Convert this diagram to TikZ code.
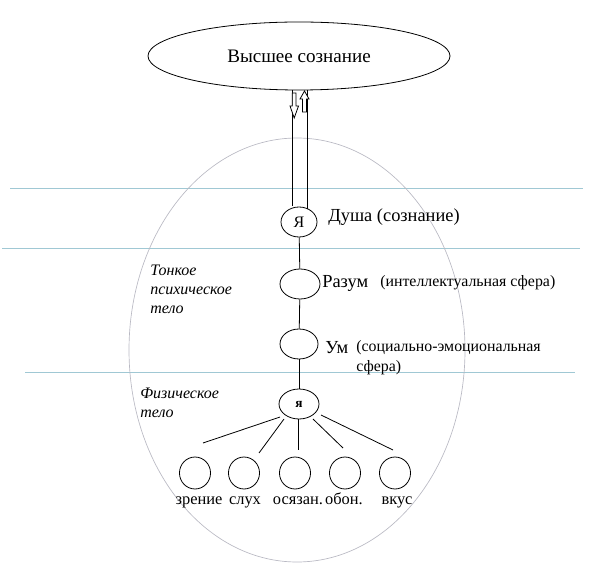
\documentclass[tikz,border=0pt]{standalone}
\usepackage{fontspec}
\setmainfont{Liberation Serif}
\usetikzlibrary{shapes.geometric}
\definecolor{sep}{RGB}{160,200,212}
\definecolor{body}{RGB}{185,185,195}
\begin{document}
\begin{tikzpicture}[x=0.75pt,y=-0.75pt,
  oval/.style={draw,ellipse,inner sep=0pt,line width=0.6pt},
  lbl/.style={inner sep=0pt,anchor=west,font=\fontsize{13.8pt}{16pt}\selectfont},
  small/.style={inner sep=0pt,anchor=west,font=\fontsize{11.9pt}{14pt}\selectfont},
  sense/.style={inner sep=0pt,anchor=base,font=\fontsize{12.3pt}{14pt}\selectfont},
  itl/.style={inner sep=0pt,anchor=west,align=left,font=\fontsize{12pt}{14.3pt}\selectfont\itshape},
  link/.style={line width=0.6pt},
  sepline/.style={draw=sep,line width=0.6pt}]
\useasboundingbox (0,0) rectangle (616,580);
% separator lines
\draw[sepline] (10,188) -- (583,188);
\draw[sepline] (2,248) -- (580,248);
\draw[sepline] (25,372) -- (575,372);
% big body ellipse
\node[draw=body,line width=0.5pt,ellipse,minimum width=252pt,minimum height=318pt,inner sep=0pt] (bodyE) at (297,350) {};
% top ellipse
\node[oval,minimum width=226.5pt,minimum height=51pt,font=\fontsize{14.3pt}{16pt}\selectfont] (top) at (299,56) {Высшее сознание};
% chain
\node[oval,minimum width=27pt,minimum height=22.5pt,font=\fontsize{12pt}{14pt}\selectfont] (ya) at (299,222) {Я};
\node[oval,minimum width=30pt,minimum height=22.5pt] (razum) at (300,284) {};
\node[oval,minimum width=28.5pt,minimum height=22.5pt] (um) at (299,344) {};
\node[oval,minimum width=30pt,minimum height=22.5pt,font=\fontsize{10pt}{12pt}\selectfont\bfseries] (ya2) at (299,404) {я};
% senses
\foreach \n/\x in {s1/195,s2/244,s3/295,s4/345,s5/395}{
  \node[oval,minimum width=23.3pt,minimum height=24pt] (\n) at (\x,473) {};
}
% connectors
\coordinate (a1) at (292,90); \coordinate (a2) at (307,90);
\coordinate (b1) at (292,206); \coordinate (b2) at (307,209);
\draw[link] (a1) -- (b1);
\draw[link] (a2) -- (b2);
\draw[link] (ya) -- (razum);
\draw[link] (razum) -- (um);
\draw[link] (um) -- (ya2);
\coordinate (e1) at (203,443); \coordinate (e2) at (259,453);
\coordinate (e3) at (298,450); \coordinate (e4) at (343,448);
\coordinate (e5) at (393,450);
\coordinate (f1) at (280,417); \coordinate (f2) at (284,419);
\coordinate (f3) at (298,419); \coordinate (f4) at (313,419);
\coordinate (f5) at (321,415);
\foreach \i in {1,...,5}{\draw[link] (f\i) -- (e\i);}
% hollow block arrows
\draw[line width=0.6pt,fill=white] (292.3,93) -- (296,93) -- (296,106) -- (298.5,106) -- (294.2,118) -- (290,106) -- (292.3,106) -- cycle;
\draw[line width=0.6pt,fill=white] (302.5,112) -- (306.5,112) -- (306.5,99) -- (309,99) -- (304.5,91) -- (300,99) -- (302.5,99) -- cycle;
% labels
\node[lbl] at (328,217) {Душа (сознание)};
\node[lbl] at (322,283) {Разум};
\node[small] at (380,283) {(интеллектуальная сфера)};
\node[lbl] at (325,348) {Ум};
\node[small] at (356,348) {(социально-эмоциональная};
\node[small] at (356,368) {сфера)};
\node[itl] at (150,289) {Тонкое\\психическое\\тело};
\node[itl] at (140,403) {Физическое\\тело};
\node[sense] at (199,504) {зрение};
\node[sense] at (245,504) {слух};
\node[sense] at (298,504) {осязан.};
\node[sense] at (344,504) {обон.};
\node[sense] at (397,504) {вкус};
\end{tikzpicture}
\end{document}
